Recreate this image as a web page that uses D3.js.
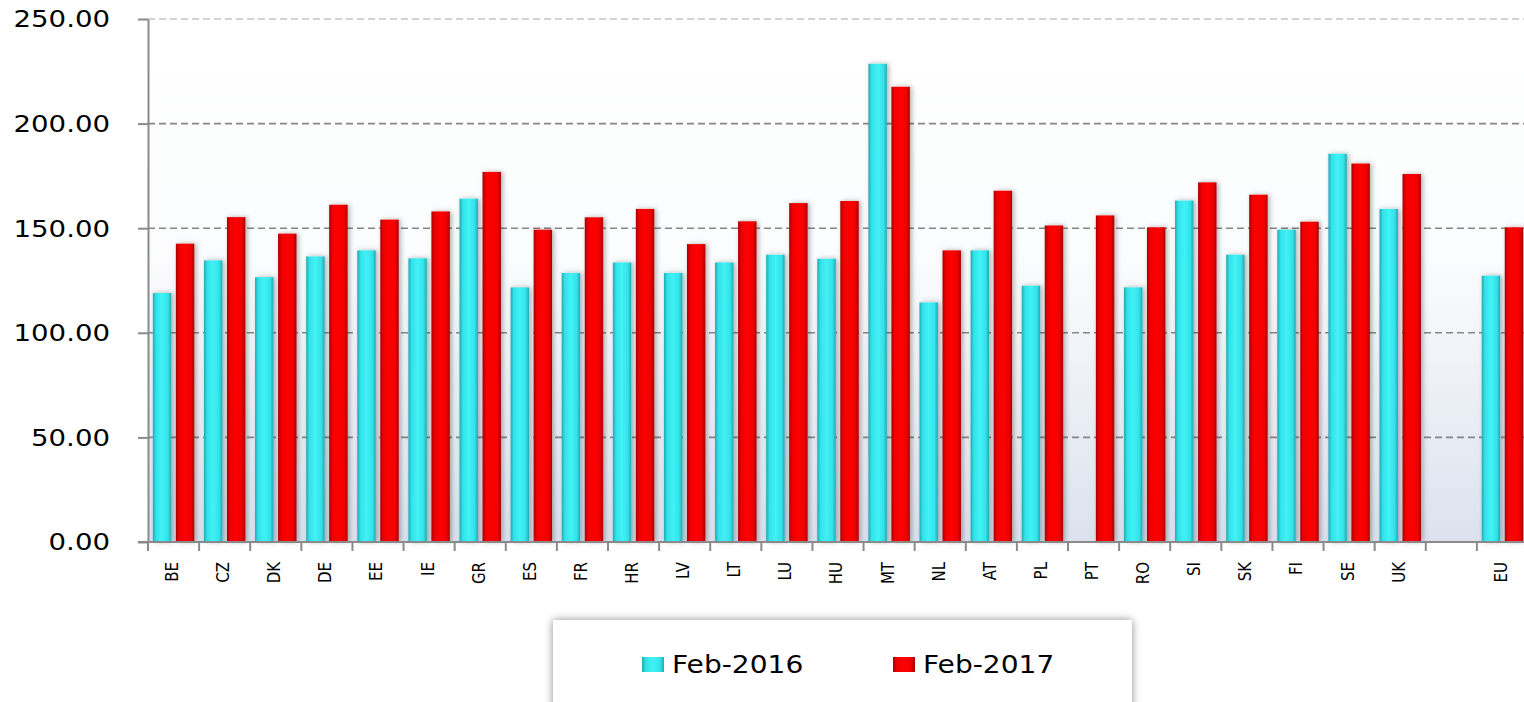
<!DOCTYPE html>
<html>
<head>
<meta charset="utf-8">
<script src="https://cdn.jsdelivr.net/npm/d3@7"></script>
<style>
  html, body { margin: 0; padding: 0; background: #fff; }
  svg { display: block; }
  text { font-family: "DejaVu Sans", Verdana, sans-serif; fill: #000; }
</style>
</head>
<body>
<svg id="chart" width="1524" height="702"></svg>
<script>
const categories = ["BE","CZ","DK","DE","EE","IE","GR","ES","FR","HR","LV","LT","LU","HU","MT","NL","AT","PL","PT","RO","SI","SK","FI","SE","UK","","EU"];
const seriesNames = ["Feb-2016", "Feb-2017"];
const feb2016 = [119.0,134.6,126.6,136.5,139.4,135.6,164.1,121.7,128.6,133.6,128.6,133.6,137.3,135.4,228.6,114.5,139.4,122.5,null,121.7,163.2,137.3,149.3,185.6,159.2,null,127.3];
const feb2017 = [142.6,155.3,147.4,161.2,154.1,158.0,176.9,149.3,155.2,159.2,142.4,153.3,162.0,163.0,217.6,139.4,167.9,151.3,156.1,150.4,171.9,166.0,153.1,180.9,175.9,null,150.4];
const yTicks = [0, 50, 100, 150, 200, 250];

(function () {
const svg = d3.select("#chart");
const pL = 148, pR = 1528, pT = 19, pB = 542;
const SX = 1.2; // horizontal text stretch of the original

const defs = svg.append("defs");
const bg = defs.append("linearGradient").attr("id", "bg").attr("x1", 0).attr("y1", 0).attr("x2", 0).attr("y2", 1);
bg.append("stop").attr("offset", "0%").attr("stop-color", "#ffffff");
bg.append("stop").attr("offset", "45%").attr("stop-color", "#fbfcfd");
bg.append("stop").attr("offset", "100%").attr("stop-color", "#dbe2ee");

function barGrad(id, edge, mid, center) {
  const g = defs.append("linearGradient").attr("id", id).attr("x1", 0).attr("y1", 0).attr("x2", 1).attr("y2", 0);
  g.append("stop").attr("offset", "0%").attr("stop-color", edge);
  g.append("stop").attr("offset", "18%").attr("stop-color", mid);
  g.append("stop").attr("offset", "50%").attr("stop-color", center);
  g.append("stop").attr("offset", "82%").attr("stop-color", mid);
  g.append("stop").attr("offset", "100%").attr("stop-color", edge);
}
barGrad("g0", "#22a9b2", "#33e3ea", "#40f2f6");
barGrad("g1", "#a80000", "#ee0000", "#ff0000");

const sh = defs.append("filter").attr("id", "shadow").attr("x", "-50%").attr("y", "-10%").attr("width", "200%").attr("height", "120%");
sh.append("feDropShadow").attr("dx", 2).attr("dy", 0).attr("stdDeviation", 2.5).attr("flood-color", "#000").attr("flood-opacity", 0.3);
const lsh = defs.append("filter").attr("id", "lshadow").attr("x", "-10%").attr("y", "-20%").attr("width", "120%").attr("height", "140%");
lsh.append("feDropShadow").attr("dx", 0).attr("dy", 0).attr("stdDeviation", 4).attr("flood-color", "#000").attr("flood-opacity", 0.45);

const x = d3.scaleBand().domain(categories).range([pL, pR]).paddingInner(0).paddingOuter(0);
const xs = d3.scaleBand().domain(seriesNames).range([0, x.bandwidth()]).paddingInner(0.2).paddingOuter(0.21);
const y = d3.scaleLinear().domain([0, 250]).range([pB, pT]);

// plot background
svg.append("rect").attr("x", pL).attr("y", y(250)).attr("width", pR - pL).attr("height", y(0) - y(250)).attr("fill", "url(#bg)");

// gridlines
svg.append("g").selectAll("line").data(yTicks.filter(d => d > 0)).join("line")
  .attr("x1", pL).attr("x2", pR)
  .attr("y1", d => y(d)).attr("y2", d => y(d))
  .attr("stroke", d => d === 250 ? "#c4c4c4" : "#858585")
  .attr("stroke-width", 1.6)
  .attr("stroke-dasharray", "7,4");

// bars
const data = categories.map((c, i) => ({ c, vals: [feb2016[i], feb2017[i]] }));
const groups = svg.append("g").selectAll("g").data(data).join("g")
  .attr("transform", d => `translate(${x(d.c)},0)`);
groups.selectAll("rect").data(d => d.vals.map((v, j) => ({ v, s: seriesNames[j], j })).filter(e => e.v != null))
  .join("rect")
  .attr("x", e => xs(e.s))
  .attr("width", xs.bandwidth())
  .attr("y", e => y(e.v))
  .attr("height", e => y(0) - y(e.v))
  .attr("fill", e => `url(#g${e.j})`)
  .attr("filter", "url(#shadow)");

// y axis
const yAxis = svg.append("g").attr("transform", `translate(${pL},0)`)
  .call(d3.axisLeft(y).tickValues(yTicks).tickFormat(d3.format(".2f")).tickSize(10).tickSizeOuter(0));
yAxis.select(".domain").attr("stroke", "#8a8a8a").attr("stroke-width", 2);
yAxis.selectAll(".tick line").attr("stroke", "#8a8a8a").attr("stroke-width", 2);
yAxis.selectAll(".tick text")
  .attr("x", 0).attr("dy", "0.34em")
  .attr("font-size", 23)
  .attr("font-family", "DejaVu Sans")
  .attr("fill", "#000")
  .attr("transform", `translate(-38,0) scale(${SX},1)`);

// x axis line
svg.append("line").attr("x1", pL - 10).attr("x2", pR).attr("y1", y(0)).attr("y2", y(0))
  .attr("stroke", "#8a8a8a").attr("stroke-width", 2);
// boundary ticks
const bounds = categories.map(c => x(c)).concat([x(categories[categories.length - 1]) + x.bandwidth()]);
svg.append("g").selectAll("line").data(bounds).join("line")
  .attr("x1", d => d).attr("x2", d => d)
  .attr("y1", y(0)).attr("y2", y(0) + 9)
  .attr("stroke", "#8a8a8a").attr("stroke-width", 2);
// category labels
svg.append("g").selectAll("text").data(categories).join("text")
  .attr("transform", d => `translate(${x(d) + x.bandwidth() / 2 - 2},562) scale(${SX},1) rotate(-90)`)
  .attr("text-anchor", "end")
  .attr("dy", "0.36em")
  .attr("font-size", 15)
  .text(d => d);

// legend
const lg = svg.append("g");
lg.append("rect").attr("x", 553).attr("y", 620).attr("width", 579).attr("height", 110)
  .attr("fill", "#fff").attr("filter", "url(#lshadow)");
const legendX = [642, 893];
seriesNames.forEach((s, j) => {
  lg.append("rect").attr("x", legendX[j]).attr("y", 657).attr("width", 22).attr("height", 15)
    .attr("fill", `url(#g${j})`);
  lg.append("text")
    .attr("transform", `translate(${legendX[j] + 30},673) scale(1.17,1)`)
    .attr("font-size", 24)
    .text(s);
});
})();
</script>
</body>
</html>
